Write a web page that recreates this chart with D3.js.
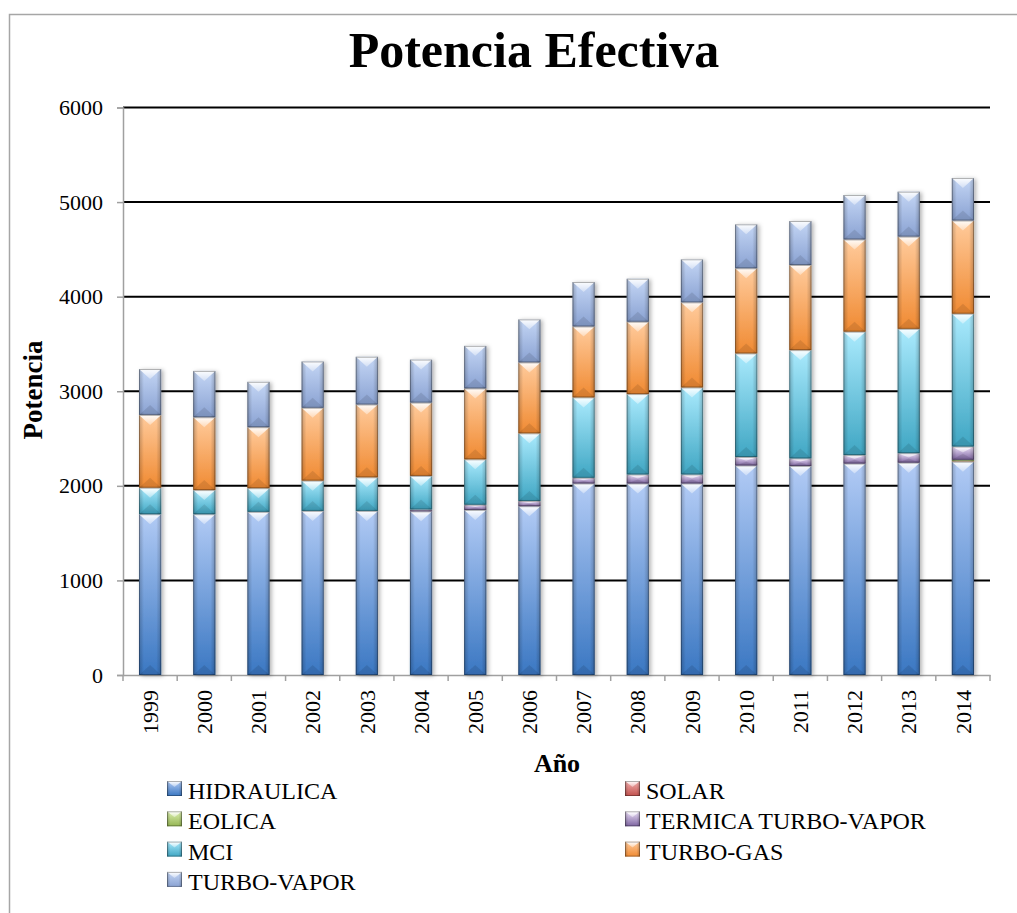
<!DOCTYPE html>
<html>
<head>
<meta charset="utf-8">
<script src="https://cdn.jsdelivr.net/npm/d3@7"></script>
<style>
body{margin:0;background:#fff}
svg{display:block;overflow:hidden}
text{font-family:"Liberation Serif","Times New Roman",serif;fill:#000}
</style>
</head>
<body>
<svg id="chart"></svg>
<script>
// data (MW)
var years=["1999","2000","2001","2002","2003","2004","2005","2006","2007","2008","2009","2010","2011","2012","2013","2014"];
var hidraulica=[1700,1700,1725,1735,1735,1730,1745,1785,2025,2025,2025,2215,2210,2235,2245,2255];
var solar=[0,0,0,0,0,0,0,0,0,0,0,0,0,0,0,5];
var eolica=[0,0,0,0,0,0,0,0,0,0,0,0,0,0,0,15];
var termicaTV=[0,0,0,0,0,20,55,55,60,95,95,90,80,90,100,140];
var mci=[280,255,250,320,355,355,480,715,850,850,920,1095,1145,1305,1315,1405];
var turboGas=[770,770,645,770,770,775,750,750,750,765,900,900,900,975,975,985];
var turboVapor=[485,490,480,490,505,455,450,455,470,455,455,465,465,470,475,450];

var seriesNames=["HIDRAULICA","SOLAR","EOLICA","TERMICA TURBO-VAPOR","MCI","TURBO-GAS","TURBO-VAPOR"];
var yTicks=[0,1000,2000,3000,4000,5000,6000];

// light (top) and dark (bottom) colour for each series
var colorsTop=["#b2cbf5","#f4b0ae","#dcefb0","#ece0f8","#aaeafd","#ffcb9c","#c4d6f5"];
var colorsBottom=["#3a77c2","#c0504d","#94b552","#7c63a0","#3fa6c3","#f08a32","#8aa2d2"];

var serif="'Liberation Serif','Times New Roman',serif"

//size of screen
var screen={width:1017,height:913}
var plot={left:123,right:990,top:107.5,bottom:675}

var svg=d3.select("#chart")
    .attr("width",screen.width)
    .attr("height",screen.height)

var defs=svg.append("defs")

// one vertical gradient per series
seriesNames.forEach(function(name,i){
    var g=defs.append("linearGradient")
        .attr("id","grad"+i)
        .attr("x1",0).attr("y1",0).attr("x2",0).attr("y2",1)
    g.append("stop").attr("offset","0%").attr("stop-color",colorsTop[i])
    g.append("stop").attr("offset","100%").attr("stop-color",colorsBottom[i])
})
var side=defs.append("linearGradient").attr("id","side")
    .attr("x1",0).attr("y1",0).attr("x2",1).attr("y2",0)
side.append("stop").attr("offset","0%").attr("stop-color","#000").attr("stop-opacity",0.22)
side.append("stop").attr("offset","22%").attr("stop-color","#000").attr("stop-opacity",0)
side.append("stop").attr("offset","78%").attr("stop-color","#000").attr("stop-opacity",0)
side.append("stop").attr("offset","100%").attr("stop-color","#000").attr("stop-opacity",0.22)
var shine=defs.append("linearGradient").attr("id","shine")
    .attr("x1",0).attr("y1",0).attr("x2",0).attr("y2",1)
shine.append("stop").attr("offset","0%").attr("stop-color","#fff").attr("stop-opacity",0.95)
shine.append("stop").attr("offset","100%").attr("stop-color","#fff").attr("stop-opacity",0.35)

var shadow=defs.append("filter").attr("id","shadow")
    .attr("x","-50%").attr("y","-10%").attr("width","200%").attr("height","120%")
shadow.append("feDropShadow")
    .attr("dx",2).attr("dy",1).attr("stdDeviation",2)
    .attr("flood-color","#000").attr("flood-opacity",0.3)

// chart frame (only top and left edges land inside the picture)
svg.append("rect")
    .attr("x",9.5).attr("y",14.5)
    .attr("width",1200).attr("height",1200)
    .attr("fill","none")
    .attr("stroke","#a6a6a6")
    .attr("stroke-width",1.5)

var xScale=d3.scaleBand()
    .domain(years)
    .range([plot.left,plot.right])
    .paddingInner(0.59)
    .paddingOuter(0.295)
var yScale=d3.scaleLinear()
    .domain([0,6000])
    .range([plot.bottom,plot.top])

//grid
svg.append("g")
    .selectAll("line")
    .data(yTicks.slice(1))
    .enter()
    .append("line")
    .attr("x1",plot.left).attr("x2",plot.right)
    .attr("y1",function(d){return yScale(d)})
    .attr("y2",function(d){return yScale(d)})
    .attr("stroke","#000")
    .attr("stroke-width",2)

//y axis
var yAxis=svg.append("g")
    .attr("transform","translate("+plot.left+",0)")
    .call(d3.axisLeft(yScale).tickValues(yTicks).tickSize(6).tickPadding(14).tickFormat(d3.format("d")))
yAxis.select(".domain").attr("stroke","#a0a0a0").attr("stroke-width",1.5)
yAxis.selectAll(".tick line").attr("stroke","#a0a0a0").attr("stroke-width",1.5)
yAxis.selectAll("text")
    .style("font-family",serif)
    .style("font-size","22px")
    .attr("fill","#000")

//x axis
var xAxis=svg.append("g")
    .attr("transform","translate(0,"+plot.bottom+")")
    .call(d3.axisBottom(xScale).tickSize(0).tickPadding(0))
xAxis.select(".domain").attr("stroke","#a0a0a0").attr("stroke-width",1.5)
xAxis.selectAll("text")
    .attr("transform","rotate(-90)")
    .attr("x",-15)
    .attr("y",0)
    .attr("dy","0.35em")
    .style("text-anchor","end")
    .style("font-family",serif)
    .style("font-size","22px")
    .attr("fill","#000")
// tick marks sit between the bars
xAxis.selectAll(".sep")
    .data(d3.range(years.length+1))
    .enter()
    .append("line")
    .classed("sep",true)
    .attr("x1",function(i){return plot.left+i*xScale.step()})
    .attr("x2",function(i){return plot.left+i*xScale.step()})
    .attr("y1",0).attr("y2",6)
    .attr("stroke","#a0a0a0")
    .attr("stroke-width",1.5)

//stacking
var rows=years.map(function(y,i){
    return {year:y,s0:hidraulica[i],s1:solar[i],s2:eolica[i],s3:termicaTV[i],s4:mci[i],s5:turboGas[i],s6:turboVapor[i]}
})
var keys=["s0","s1","s2","s3","s4","s5","s6"]
var stacked=d3.stack().keys(keys)(rows)

var bw=xScale.bandwidth()

var columns=svg.append("g")
    .selectAll("g")
    .data(years)
    .enter()
    .append("g")
    .attr("filter","url(#shadow)")

columns.each(function(year,j){
    var col=d3.select(this)
    var x0=xScale(year)
    stacked.forEach(function(layer,i){
        var d=layer[j]
        if(d[1]-d[0]<=0){return}
        var top=yScale(d[1]),bot=yScale(d[0]),h=bot-top
        var seg=col.append("g")
        seg.append("rect")
            .attr("x",x0).attr("y",top)
            .attr("width",bw).attr("height",h)
            .attr("fill","url(#grad"+i+")")
        seg.append("rect")
            .attr("x",x0).attr("y",top)
            .attr("width",bw).attr("height",h)
            .attr("fill","url(#side)")
        var depth=Math.min(bw*0.45,h*0.45)
        seg.append("polygon")
            .attr("points",[[x0,top],[x0+bw,top],[x0+bw/2,top+depth]].join(" "))
            .attr("fill","url(#shine)")
        seg.append("polygon")
            .attr("points",[[x0,bot],[x0+bw,bot],[x0+bw/2,bot-depth]].join(" "))
            .attr("fill","#000")
            .attr("fill-opacity",0.1)
        seg.append("rect")
            .attr("x",x0+0.5).attr("y",top+0.5)
            .attr("width",bw-1).attr("height",Math.max(h-1,0))
            .attr("fill","none")
            .attr("stroke","#000")
            .attr("stroke-opacity",0.3)
            .attr("stroke-width",1)
    })
})

//titles
svg.append("text")
    .attr("x",534).attr("y",67)
    .attr("text-anchor","middle")
    .style("font-family",serif)
    .style("font-size","50px")
    .style("font-weight","bold")
    .text("Potencia Efectiva")

svg.append("text")
    .attr("transform","translate(33,390) rotate(-90)")
    .attr("text-anchor","middle")
    .attr("dominant-baseline","central")
    .style("font-family",serif)
    .style("font-size","27px")
    .style("font-weight","bold")
    .text("Potencia")

svg.append("text")
    .attr("x",557).attr("y",772)
    .attr("text-anchor","middle")
    .style("font-family",serif)
    .style("font-size","26px")
    .style("font-weight","bold")
    .text("Año")

//legend
var legend=svg.append("g")
    .selectAll("g")
    .data(seriesNames)
    .enter()
    .append("g")
    .attr("transform",function(d,i){
        return "translate("+(i%2==0?167:625)+","+(781+Math.floor(i/2)*30.3)+")"
    })
legend.append("rect")
    .attr("width",15).attr("height",15)
    .attr("fill",function(d,i){return "url(#grad"+i+")"})
legend.append("rect")
    .attr("width",15).attr("height",15)
    .attr("fill","url(#side)")
legend.append("polygon")
    .attr("points","0,0 15,0 7.5,6")
    .attr("fill","url(#shine)")
legend.append("rect")
    .attr("x",0.5).attr("y",0.5)
    .attr("width",14).attr("height",14)
    .attr("fill","none")
    .attr("stroke","#000")
    .attr("stroke-opacity",0.3)
legend.append("text")
    .attr("x",21).attr("y",18)
    .style("font-family",serif)
    .style("font-size","24px")
    .text(function(d){return d})
</script>
</body>
</html>
